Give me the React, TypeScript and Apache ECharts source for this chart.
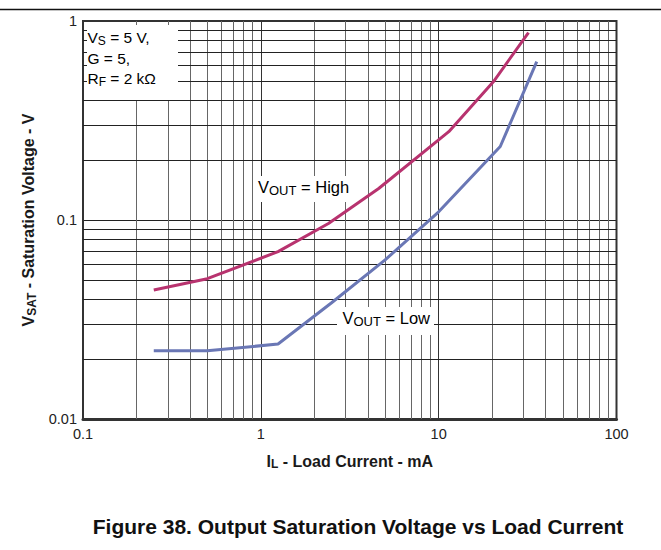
import React, { useEffect, useRef } from "react";
import * as echarts from "echarts";

const FONT = "'Liberation Sans', Arial, Helvetica, sans-serif";

// Load current (mA) and saturation voltage (V)
const currentHigh = [0.25, 0.5, 1.25, 2.4, 4.6, 11.4, 20.3, 32];
const vsatHigh = [0.0445, 0.0507, 0.0694, 0.096, 0.144, 0.278, 0.495, 0.874];
const currentLow = [0.25, 0.5, 1.25, 2.5, 5, 10, 22.2, 35.6];
const vsatLow = [0.022, 0.022, 0.0238, 0.0384, 0.063, 0.11, 0.234, 0.625];

const xMinorLines = [0.2, 0.3, 0.4, 0.5, 0.6, 0.7, 0.8, 0.9, 2, 3, 4, 5, 6, 7, 8, 9, 20, 30, 40, 50, 60, 70, 80, 90];
const yMinorLines = [0.02, 0.03, 0.04, 0.05, 0.06, 0.07, 0.08, 0.09, 0.2, 0.3, 0.4, 0.5, 0.6, 0.7, 0.8, 0.9];

const xTickLabels: Record<string, string> = { "0.1": "0.1", "1": "1", "10": "10", "100": "100" };
const yTickLabels: Record<string, string> = { "0.01": "0.01", "0.1": "0.1", "1": "1" };

const legendLines = ["{n|V}{s|S}{n| = 5 V,}", "{n|G = 5,}", "{n|R}{s|F}{n| = 2 kΩ}"];
const highLabel = "{n|V}{s|OUT}{n| = High}";
const lowLabel = "{n|V}{s|OUT}{n| = Low}";
const xName = "{n|I}{s|L}{n| - Load Current - mA}";
const yName = "{n|V}{s|SAT}{n| - Saturation Voltage - V}";
const titleText = "Figure 38. Output Saturation Voltage vs Load Current";

function subRich(F: number, fs: number, d: number, weight: string) {
  return {
    n: { fontSize: F, fontFamily: FONT, fontWeight: weight, color: "#1a1a1a" },
    s: { fontSize: fs, fontFamily: FONT, fontWeight: weight, color: "#1a1a1a", padding: [2 * d, 0, 0, 0] },
  };
}

function fmt(map: Record<string, string>) {
  return (v: number) => {
    const key = String(+v.toPrecision(3));
    return map[key] ?? "";
  };
}

export default function App() {
  const ref = useRef<HTMLDivElement>(null);
  useEffect(() => {
    if (!ref.current) return;
    const chart = echarts.init(ref.current, undefined, { renderer: "svg" });
    const legendRich = subRich(15.5, 12, 3.5, "normal");
    const labelRich = subRich(16.5, 13, 3.5, "normal");
    chart.setOption({
      animation: false,
      backgroundColor: "#fff",
      grid: {
        left: 83,
        right: 44.5,
        top: 21,
        bottom: 131,
        show: true,
        borderColor: "#333",
        borderWidth: 2,
        backgroundColor: "transparent",
        z: 3,
      },
      xAxis: {
        type: "log",
        logBase: 10,
        min: 0.1,
        max: 100,
        name: xName,
        nameLocation: "middle",
        nameGap: 33,
        nameTextStyle: { rich: subRich(16, 12, 3, "bold") },
        axisLine: { show: true, lineStyle: { color: "#333", width: 3 } },
        axisTick: { show: false },
        axisLabel: {
          formatter: fmt(xTickLabels),
          fontFamily: FONT,
          fontSize: 14.5,
          color: "#222",
          margin: 7,
        },
        splitLine: { show: true, lineStyle: { color: "#333", width: 1 } },
        minorTick: { show: false },
        minorSplitLine: { show: false },
      },
      yAxis: {
        type: "log",
        logBase: 10,
        min: 0.01,
        max: 1,
        name: yName,
        nameLocation: "middle",
        nameGap: 40,
        nameRotate: 90,
        nameTextStyle: { rich: subRich(16, 12, 3, "bold") },
        axisLine: { show: true, lineStyle: { color: "#333", width: 2 } },
        axisTick: { show: false },
        axisLabel: {
          formatter: fmt(yTickLabels),
          fontFamily: FONT,
          fontSize: 14.5,
          color: "#222",
          margin: 6,
        },
        splitLine: { show: true, lineStyle: { color: "#222", width: 1 } },
      },
      series: [
        {
          type: "line",
          name: "grid",
          data: [],
          silent: true,
          z: 1,
          markLine: {
            silent: true,
            symbol: ["none", "none"],
            label: { show: false },
            animation: false,
            data: [
              ...xMinorLines.map((v) => ({ xAxis: v, lineStyle: { color: "#666", width: 1, type: "solid" } })),
              ...yMinorLines.map((v) => ({ yAxis: v, lineStyle: { color: "#222", width: 1, type: "solid" } })),
            ],
          },
        },
        {
          type: "line",
          name: "VOUT = High",
          data: currentHigh.map((x, i) => [x, vsatHigh[i]]),
          showSymbol: false,
          symbol: "none",
          z: 5,
          lineStyle: { color: "#b8336f", width: 3 },
        },
        {
          type: "line",
          name: "VOUT = Low",
          data: currentLow.map((x, i) => [x, vsatLow[i]]),
          showSymbol: false,
          symbol: "none",
          z: 5,
          lineStyle: { color: "#6a77b5", width: 3 },
        },
      ],
      graphic: [
        { type: "line", z: 100, shape: { x1: 0, y1: 9.5, x2: 661, y2: 9.5 }, style: { stroke: "#111", lineWidth: 1.5 } },
        { type: "rect", z: 100, shape: { x: 87, y: 25, width: 91, height: 75 }, style: { fill: "#fff" } },
        ...legendLines.map((t, i) => ({
          type: "text",
          z: 101,
          style: { text: t, rich: legendRich, x: 87.5, y: [37, 58.3, 78.7][i], align: "left", verticalAlign: "middle" },
        })),
        { type: "rect", z: 100, shape: { x: 254, y: 176, width: 101, height: 26 }, style: { fill: "#fff" } },
        {
          type: "text",
          z: 101,
          style: { text: highLabel, rich: labelRich, x: 258, y: 186.5, align: "left", verticalAlign: "middle" },
        },
        { type: "rect", z: 100, shape: { x: 337, y: 307, width: 97, height: 28 }, style: { fill: "#fff" } },
        {
          type: "text",
          z: 101,
          style: { text: lowLabel, rich: labelRich, x: 342.5, y: 317.5, align: "left", verticalAlign: "middle" },
        },
        {
          type: "text",
          z: 101,
          style: {
            text: titleText,
            x: 358,
            y: 526,
            align: "center",
            verticalAlign: "middle",
            fontFamily: FONT,
            fontWeight: "bold",
            fontSize: 21,
            fill: "#111",
          },
        },
      ],
    });
    return () => chart.dispose();
  }, []);
  return <div ref={ref} style={{ position: "fixed", left: 0, top: 0, width: 661, height: 550 }} />;
}
